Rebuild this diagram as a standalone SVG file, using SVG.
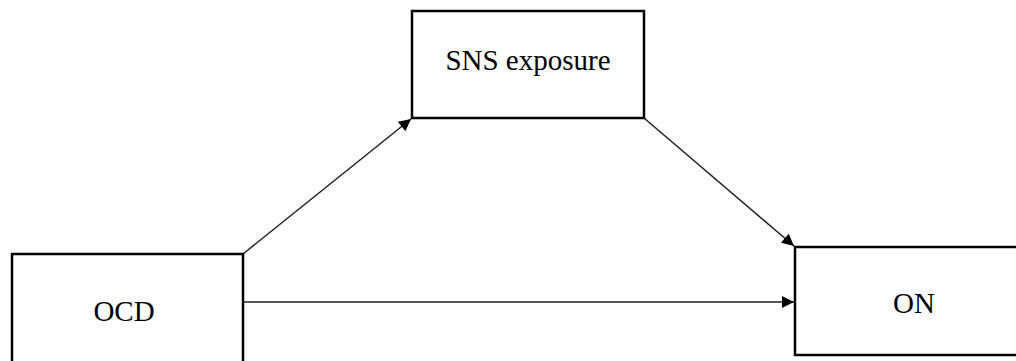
<svg xmlns="http://www.w3.org/2000/svg" width="1016" height="361" viewBox="0 0 1016 361">
<style>
.box{fill:#fff;stroke:#000;stroke-width:2.5}
.lbl{font-family:"Liberation Serif","Times New Roman",serif;font-size:29px;fill:#000;text-anchor:middle}
.conn{stroke:#222;stroke-width:1.5;fill:none;marker-end:url(#ah)}
</style>
<defs>
<marker id="ah" viewBox="0 0 10 10" refX="10" refY="5" markerWidth="10" markerHeight="8" markerUnits="strokeWidth" orient="auto">
<path d="M0,0 L10,5 L0,10 z" fill="#000"/>
</marker>
</defs>
<rect width="1016" height="361" fill="#fff"/>
<g id="connectors">
<line class="conn" x1="243" y1="254" x2="411" y2="119"/>
<line class="conn" x1="644" y1="118" x2="794" y2="246"/>
<line class="conn" x1="244" y1="302" x2="794" y2="302"/>
</g>
<g id="node-sns">
<rect class="box" x="412" y="11" width="232" height="107"/>
<text class="lbl" x="528" y="70">SNS exposure</text>
</g>
<g id="node-ocd">
<rect class="box" x="12" y="254" width="231" height="110"/>
<text class="lbl" x="124" y="321">OCD</text>
</g>
<g id="node-on">
<rect class="box" x="795" y="247" width="230" height="108"/>
<text class="lbl" x="914" y="313">ON</text>
</g>
</svg>
